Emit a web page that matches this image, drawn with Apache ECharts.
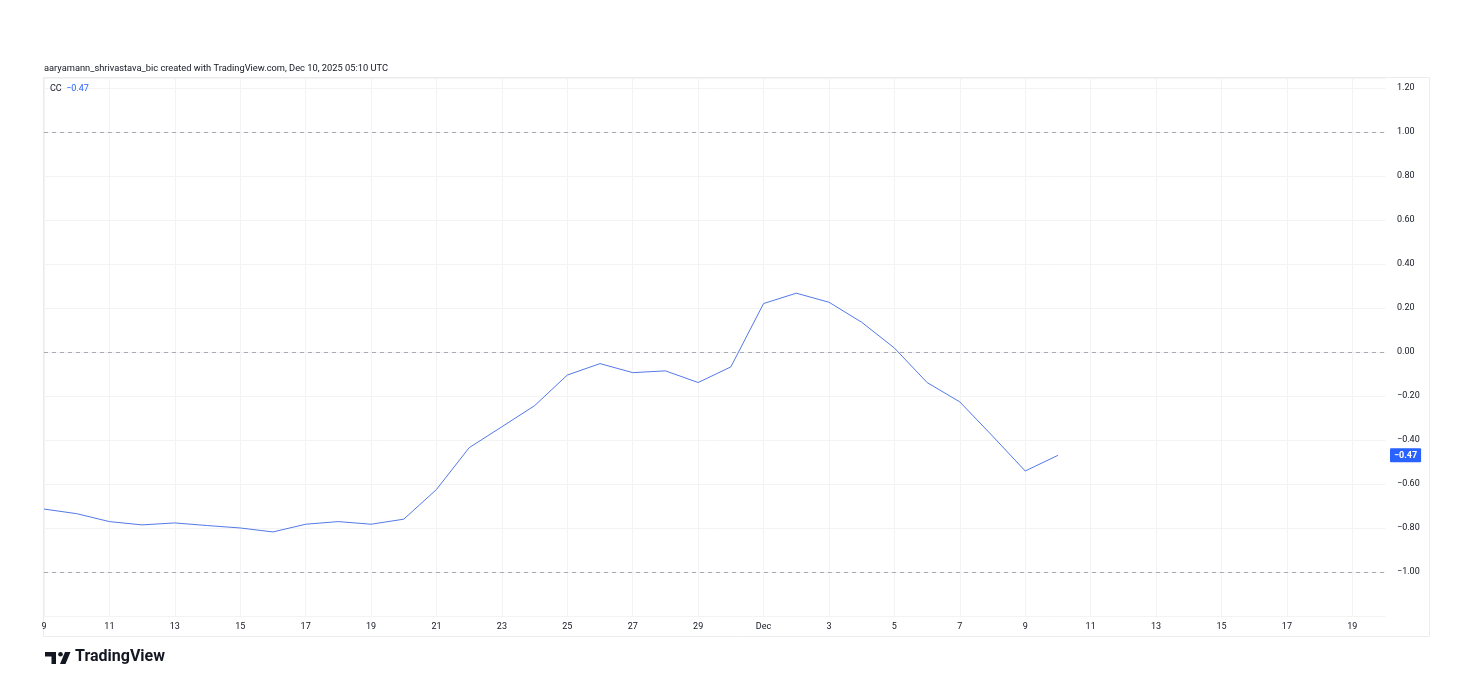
<!DOCTYPE html>
<html>
<head>
<meta charset="utf-8">
<script src="https://cdn.jsdelivr.net/npm/echarts@6/dist/echarts.min.js"></script>
<style>
html,body{margin:0;padding:0;background:#fff;}
#c{width:1480px;height:690px;}
</style>
</head>
<body>
<div id="c"></div>
<script>
// ---- data ----
const categories = [
  'Nov 9','Nov 10','Nov 11','Nov 12','Nov 13','Nov 14','Nov 15','Nov 16','Nov 17','Nov 18',
  'Nov 19','Nov 20','Nov 21','Nov 22','Nov 23','Nov 24','Nov 25','Nov 26','Nov 27','Nov 28',
  'Nov 29','Nov 30','Dec 1','Dec 2','Dec 3','Dec 4','Dec 5','Dec 6','Dec 7','Dec 8',
  'Dec 9','Dec 10','Dec 11','Dec 12','Dec 13','Dec 14','Dec 15','Dec 16','Dec 17','Dec 18',
  'Dec 19','Dec 20'
];
const ccValues = [
  -0.714, -0.735, -0.771, -0.786, -0.777, -0.789, -0.800, -0.818, -0.783, -0.771,
  -0.783, -0.760, -0.625, -0.435, -0.340, -0.244, -0.105, -0.053, -0.094, -0.086,
  -0.139, -0.068, 0.220, 0.267, 0.226, 0.135, 0.018, -0.139, -0.227, -0.382,
  -0.541, -0.470
];
const levelLines = [1.0, 0.0, -1.0];
const lastValue = -0.47;
const headerText = 'aaryamann_shrivastava_bic created with TradingView.com, Dec 10, 2025 05:10 UTC';
const seriesName = 'CC';

const MINUS = '\u2212';
function fmtNum(v){ return (v < 0 ? MINUS : '') + Math.abs(v).toFixed(2); }

const FONT = 'Roboto, "Liberation Sans", sans-serif';
const chart = echarts.init(document.getElementById('c'), null, {renderer:'canvas'});

const lineData = categories.map((c, i) => (i < ccValues.length ? ccValues[i] : null));

chart.setOption({
  animation: false,
  backgroundColor: '#ffffff',
  textStyle: { fontFamily: FONT },
  title: [
    { text: headerText, left: 44, top: 64, padding: 0,
      textStyle: { fontSize: 9.3, fontWeight: 'normal', color: '#131722', fontFamily: FONT } },
    { text: '{a|' + seriesName + '}  {b|' + fmtNum(lastValue) + '}', left: 50, top: 84, padding: 0,
      textStyle: { fontSize: 9, fontWeight: 'normal', fontFamily: FONT,
        rich: { a: { color: '#131722', fontSize: 9, fontFamily: FONT },
                b: { color: '#2962ff', fontSize: 9, fontFamily: FONT } } } }
  ],
  grid: { left: 44, right: 95, top: 78, bottom: 74, containLabel: false },
  xAxis: {
    type: 'category',
    data: categories,
    boundaryGap: false,
    axisLine: { show: false },
    axisTick: { show: false },
    axisLabel: {
      interval: 1,
      color: '#131722',
      fontSize: 9,
      fontFamily: FONT,
      margin: 6,
      formatter: function (v) {
        const p = v.split(' ');
        if (p[1] === '1') return p[0];
        return p[1];
      }
    },
    splitLine: { show: true, interval: 1, lineStyle: { color: '#f3f3f4', width: 1 } }
  },
  yAxis: {
    type: 'value',
    position: 'right',
    min: -1.2,
    max: 1.245,
    interval: 0.2,
    axisLine: { show: false },
    axisTick: { show: false },
    axisLabel: {
      color: '#131722',
      fontSize: 9,
      fontFamily: FONT,
      margin: 12,
      formatter: function (v) {
        if (Math.abs(v * 5 - Math.round(v * 5)) > 1e-6) return '';
        if (v < -1.1) return '';
        return fmtNum(v);
      }
    },
    splitLine: { show: true, lineStyle: { color: '#f3f3f4', width: 1 } }
  },
  graphic: [
    { type: 'rect', shape: { x: 43.5, y: 77.5, width: 1386, height: 559 },
      style: { fill: 'none', stroke: '#ececee', lineWidth: 1 }, silent: true, z: -1 },
    // TradingView logo
    { type: 'group', left: 45, top: 652, children: [
      { type: 'rect', shape: { x: 0, y: 0, width: 11, height: 4.5 }, style: { fill: '#131722' } },
      { type: 'rect', shape: { x: 6.5, y: 0, width: 4.5, height: 12 }, style: { fill: '#131722' } },
      { type: 'circle', shape: { cx: 15.5, cy: 2.3, r: 2.3 }, style: { fill: '#131722' } },
      { type: 'polygon', shape: { points: [[20,0],[25.5,0],[20.5,12],[15,12]] }, style: { fill: '#131722' } }
    ]},
    { type: 'text', left: 75, top: 649,
      style: { text: 'TradingView', fontSize: 16, fontWeight: 'bold', fill: '#131722', fontFamily: FONT } }
  ],
  series: [
    {
      name: seriesName,
      type: 'line',
      data: lineData,
      showSymbol: false,
      symbol: 'none',
      connectNulls: false,
      lineStyle: { color: '#5479e8', width: 1 },
      z: 3,
      markLine: {
        silent: true,
        symbol: 'none',
        animation: false,
        data: levelLines.map(v => ({ yAxis: v }))
          .concat([{ yAxis: lastValue,
            lineStyle: { color: 'rgba(0,0,0,0)', width: 1, type: 'solid' },
            label: { show: true, position: 'end', distance: 5,
              formatter: fmtNum(lastValue),
              backgroundColor: '#2962ff', color: '#ffffff',
              fontSize: 9, fontWeight: 'bold', fontFamily: FONT,
              padding: [3, 4, 2, 4], borderRadius: 1 } }]),
        lineStyle: { color: '#a9acb4', type: [4, 4], width: 1 },
        label: { show: false }
      }
    }
  ]
});
</script>
</body>
</html>
